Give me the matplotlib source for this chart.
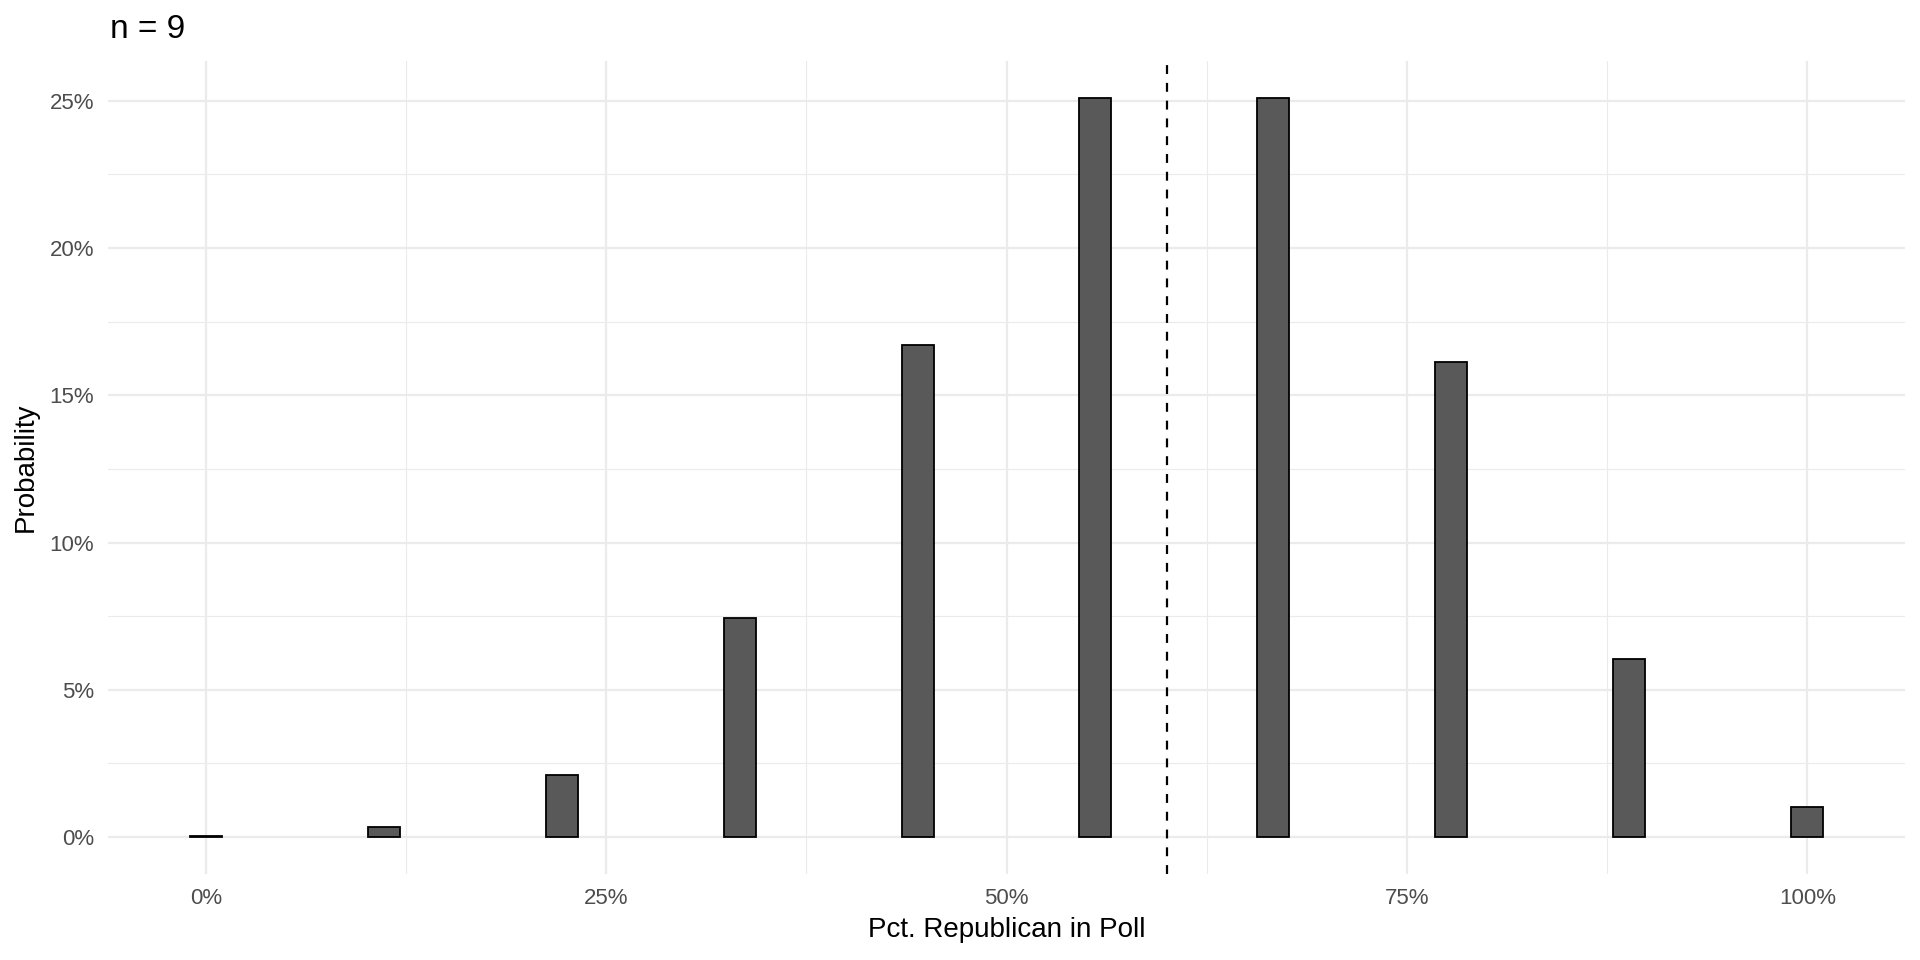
import matplotlib
matplotlib.use("Agg")
import matplotlib.pyplot as plt
from matplotlib.ticker import FixedLocator, FuncFormatter

plt.rcParams['font.family'] = ['Liberation Sans', 'DejaVu Sans']

pct_republican = [0/9, 1/9, 2/9, 3/9, 4/9, 5/9, 6/9, 7/9, 8/9, 9/9]
probability = [0.0003, 0.0035, 0.0212, 0.0743, 0.1672, 0.2508, 0.2508, 0.1612, 0.0605, 0.0101]
true_share = 0.6
title = "n = 9"
x_ticks = [0, 0.25, 0.5, 0.75, 1.0]
y_ticks = [0, 0.05, 0.10, 0.15, 0.20, 0.25]

fig = plt.figure(figsize=(19.2, 9.6), dpi=100)
ax = fig.add_axes([108/1920, 1-874/960, (1905-108)/1920, (874-61)/960])

ax.bar(pct_republican, probability, width=0.02, color='#595959', edgecolor='black', linewidth=1.3, zorder=3)
ax.axvline(true_share, color='black', linestyle=(0, (4, 4)), linewidth=1.6, zorder=4)

ax.set_xlim(-0.061, 1.061)
ax.set_ylim(-0.01255, 0.2635)

ax.xaxis.set_major_locator(FixedLocator(x_ticks))
ax.xaxis.set_minor_locator(FixedLocator([0.125, 0.375, 0.625, 0.875]))
ax.yaxis.set_major_locator(FixedLocator(y_ticks))
ax.yaxis.set_minor_locator(FixedLocator([0.025, 0.075, 0.125, 0.175, 0.225]))
ax.xaxis.set_major_formatter(FuncFormatter(lambda v, p: f"{v*100:.0f}%"))
ax.yaxis.set_major_formatter(FuncFormatter(lambda v, p: f"{v*100:.0f}%"))

ax.grid(which='major', color='#EBEBEB', linewidth=1.6, zorder=0)
ax.grid(which='minor', color='#EBEBEB', linewidth=0.8, zorder=0)
ax.set_axisbelow(True)
for s in ax.spines.values():
    s.set_visible(False)
ax.tick_params(which='both', length=0)
ax.tick_params(axis='both', labelsize=16, labelcolor='#4D4D4D', pad=10)

ax.set_xlabel("Pct. Republican in Poll", fontsize=20, color='black', labelpad=6)
ax.set_ylabel("Probability", fontsize=20, color='black', labelpad=8)
fig.text(110/1920, 1-30/960, title, fontsize=24, color='black', ha='left', va='center')

fig.savefig("out.png", dpi=100, facecolor='white')
